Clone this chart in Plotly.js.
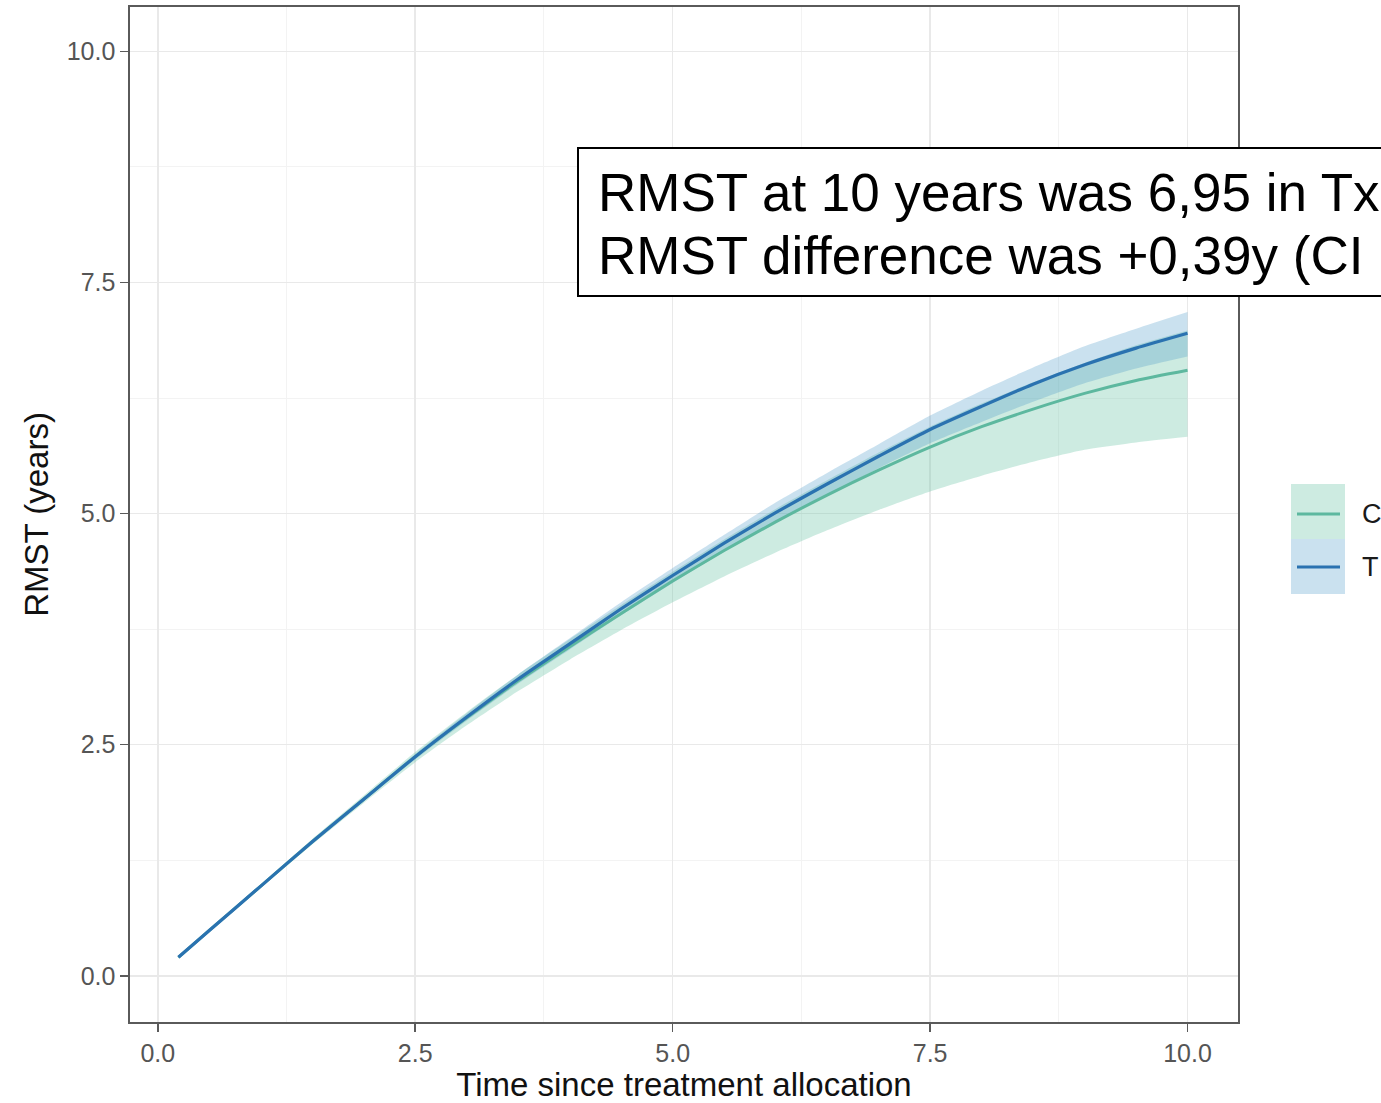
<!DOCTYPE html>
<html>
<head>
<meta charset="utf-8">
<script src="https://cdn.plot.ly/plotly-3.0.1.min.js"></script>
<style>
  html, body { margin: 0; padding: 0; background: #ffffff; overflow: hidden; }
  #chart { width: 1381px; height: 1103px; }
</style>
</head>
<body>
<div id="chart"></div>
<script>
// ---- data ----
const time = [0.2, 0.5, 1.0, 1.5, 2.0, 2.5, 3.0, 3.5, 4.0, 4.5, 5.0, 5.5, 6.0, 6.5, 7.0, 7.5, 8.0, 8.5, 9.0, 9.5, 10.0];

const txRmst  = [0.20, 0.49, 0.97, 1.45, 1.91, 2.37, 2.80, 3.21, 3.59, 3.97, 4.33, 4.68, 5.01, 5.32, 5.62, 5.91, 6.16, 6.40, 6.61, 6.79, 6.95];
const txLower = [0.19, 0.48, 0.96, 1.44, 1.89, 2.34, 2.76, 3.16, 3.53, 3.90, 4.25, 4.59, 4.90, 5.20, 5.49, 5.76, 5.99, 6.21, 6.41, 6.57, 6.70];
const txUpper = [0.21, 0.50, 0.98, 1.46, 1.93, 2.40, 2.84, 3.26, 3.65, 4.04, 4.41, 4.77, 5.12, 5.44, 5.75, 6.06, 6.33, 6.58, 6.81, 7.00, 7.18];

const ctrlRmst  = [0.20, 0.49, 0.97, 1.45, 1.91, 2.37, 2.79, 3.19, 3.56, 3.92, 4.27, 4.60, 4.91, 5.20, 5.47, 5.72, 5.94, 6.13, 6.30, 6.44, 6.55];
const ctrlLower = [0.19, 0.48, 0.95, 1.42, 1.87, 2.31, 2.71, 3.08, 3.42, 3.74, 4.04, 4.32, 4.58, 4.82, 5.04, 5.24, 5.41, 5.56, 5.69, 5.77, 5.83];
const ctrlUpper = [0.21, 0.50, 0.99, 1.48, 1.95, 2.42, 2.85, 3.26, 3.64, 4.01, 4.37, 4.72, 5.05, 5.36, 5.66, 5.94, 6.19, 6.42, 6.63, 6.82, 6.98];

const seriesNames = ["C", "T"];
const xTickVals = [0, 2.5, 5, 7.5, 10];
const xTickText = ["0.0", "2.5", "5.0", "7.5", "10.0"];
const yTickVals = [0, 2.5, 5, 7.5, 10];
const yTickText = ["0.0", "2.5", "5.0", "7.5", "10.0"];
const noteLines = ["RMST at 10 years was 6,95 in Tx", "RMST difference was +0,39y (CI"];
const xTitle = "Time since treatment allocation";
const yTitle = "RMST (years)";

// ---- styling ----
const FONT = "Liberation Sans, Arial, sans-serif";
const ctrlLine = "#5db89f";
const txLine = "#2a72b0";
const ctrlFill = "rgba(102,194,165,0.33)";
const txFill = "rgba(66,146,198,0.28)";

const W = 1381, H = 1103;
const M = { l: 130, r: 143, t: 7, b: 81 };
const plotW = W - M.l - M.r, plotH = H - M.t - M.b;
const px2x = px => (px - M.l) / plotW;
const py2y = py => (H - M.b - py) / plotH;

const sp = { shape: "spline", smoothing: 0.6 };

const traces = [
  { x: time, y: ctrlLower, type: "scatter", mode: "lines", line: Object.assign({ width: 0, color: ctrlFill }, sp), showlegend: false, hoverinfo: "skip" },
  { x: time, y: ctrlUpper, type: "scatter", mode: "lines", fill: "tonexty", fillcolor: ctrlFill, line: Object.assign({ width: 0, color: ctrlFill }, sp), showlegend: false, hoverinfo: "skip" },
  { x: time, y: txLower, type: "scatter", mode: "lines", line: Object.assign({ width: 0, color: txFill }, sp), showlegend: false, hoverinfo: "skip" },
  { x: time, y: txUpper, type: "scatter", mode: "lines", fill: "tonexty", fillcolor: txFill, line: Object.assign({ width: 0, color: txFill }, sp), showlegend: false, hoverinfo: "skip" },
  { x: time, y: ctrlRmst, type: "scatter", mode: "lines", name: seriesNames[0], line: Object.assign({ width: 3, color: ctrlLine }, sp), showlegend: false },
  { x: time, y: txRmst, type: "scatter", mode: "lines", name: seriesNames[1], line: Object.assign({ width: 3.2, color: txLine }, sp), showlegend: false }
];

const shapes = [
  // note box
  { type: "rect", xref: "paper", yref: "paper", x0: px2x(578), x1: px2x(1500), y0: py2y(296), y1: py2y(148),
    line: { color: "#000000", width: 2 }, fillcolor: "#ffffff", layer: "above" },
  // legend keys
  { type: "rect", xref: "paper", yref: "paper", x0: px2x(1291), x1: px2x(1345), y0: py2y(539), y1: py2y(484),
    line: { width: 0 }, fillcolor: ctrlFill, layer: "above" },
  { type: "rect", xref: "paper", yref: "paper", x0: px2x(1291), x1: px2x(1345), y0: py2y(594), y1: py2y(539),
    line: { width: 0 }, fillcolor: txFill, layer: "above" },
  { type: "line", xref: "paper", yref: "paper", x0: px2x(1297), x1: px2x(1340), y0: py2y(514), y1: py2y(514),
    line: { color: ctrlLine, width: 3 }, layer: "above" },
  { type: "line", xref: "paper", yref: "paper", x0: px2x(1297), x1: px2x(1340), y0: py2y(567), y1: py2y(567),
    line: { color: txLine, width: 3.2 }, layer: "above" }
];

const annotations = [
  { xref: "paper", yref: "paper", x: px2x(596), y: py2y(192), xanchor: "left", yanchor: "middle", showarrow: false,
    text: noteLines[0], font: { family: FONT, size: 53, color: "#000000" } },
  { xref: "paper", yref: "paper", x: px2x(596), y: py2y(255), xanchor: "left", yanchor: "middle", showarrow: false,
    text: noteLines[1], font: { family: FONT, size: 53, color: "#000000" } },
  { xref: "paper", yref: "paper", x: px2x(1360), y: py2y(514), xanchor: "left", yanchor: "middle", showarrow: false,
    text: seriesNames[0], font: { family: FONT, size: 27, color: "#1a1a1a" } },
  { xref: "paper", yref: "paper", x: px2x(1360), y: py2y(567), xanchor: "left", yanchor: "middle", showarrow: false,
    text: seriesNames[1], font: { family: FONT, size: 27, color: "#1a1a1a" } }
];

const axisCommon = {
  showgrid: true, gridcolor: "#e9e9e9", gridwidth: 1.6,
  zeroline: false,
  showline: true, mirror: true, linecolor: "#5a5a5a", linewidth: 1.6,
  ticks: "outside", ticklen: 8, tickwidth: 1.5, tickcolor: "#5a5a5a",
  tickfont: { family: FONT, size: 25, color: "#555555" },
  tickmode: "array",
  minor: { dtick: 1.25, tick0: 0, showgrid: true, gridcolor: "#f3f3f3", gridwidth: 1, ticks: "" }
};

const layout = {
  width: W, height: H,
  margin: M,
  paper_bgcolor: "#ffffff",
  plot_bgcolor: "#ffffff",
  showlegend: false,
  xaxis: Object.assign({}, axisCommon, {
    range: [-0.27, 10.49],
    tickvals: xTickVals, ticktext: xTickText,
    title: { text: xTitle, standoff: 10, font: { family: FONT, size: 33, color: "#111111" } }
  }),
  yaxis: Object.assign({}, axisCommon, {
    range: [-0.5, 10.48],
    tickvals: yTickVals, ticktext: yTickText,
    title: { text: yTitle, standoff: 8, font: { family: FONT, size: 33, color: "#111111" } }
  }),
  shapes: shapes,
  annotations: annotations
};

Plotly.newPlot("chart", traces, layout, { staticPlot: true, displayModeBar: false });
</script>
</body>
</html>
